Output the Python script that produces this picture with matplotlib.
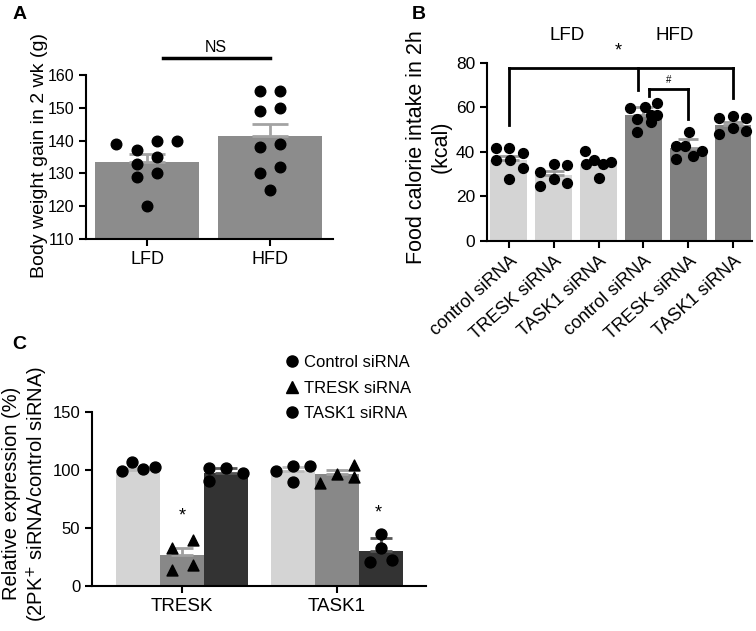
import matplotlib.pyplot as plt
from matplotlib.lines import Line2D

plt.rcParams['font.family'] = ['Liberation Sans', 'DejaVu Sans']

# ---- Panel A: body weight gain ----
a_groups = ['LFD', 'HFD']
a_means = [133.6, 141.5]
a_sem = [2.3, 3.7]
a_points = [
    [139, 137, 140, 140, 133, 135, 129, 130, 120],
    [155, 155, 149, 150, 138, 139, 130, 132, 125],
]
a_jitter = [
    [-0.25, -0.08, 0.08, 0.24, -0.08, 0.08, -0.08, 0.08, 0.0],
    [-0.08, 0.08, -0.08, 0.08, -0.08, 0.08, -0.08, 0.08, 0.0],
]

# ---- Panel B: food calorie intake ----
b_labels = ['control siRNA', 'TRESK siRNA', 'TASK1 siRNA',
            'control siRNA', 'TRESK siRNA', 'TASK1 siRNA']
b_diet = ['LFD', 'LFD', 'LFD', 'HFD', 'HFD', 'HFD']
b_means = [36.6, 29.6, 34.5, 56.4, 41.7, 52.3]
b_sem = [1.7, 2.0, 1.5, 3.8, 4.2, 1.3]
b_points = [
    [41.7, 41.7, 39.4, 36.5, 36.5, 32.9, 27.8],
    [30.9, 34.5, 34.1, 27.8, 24.8, 25.9],
    [40.6, 36.5, 34.6, 34.6, 35.4, 28.3],
    [59.8, 60.1, 62.1, 54.9, 56.7, 56.4, 53.4, 49.2],
    [49.2, 42.6, 42.9, 40.6, 38.3, 36.8],
    [55.2, 56.1, 55.2, 48.1, 50.8, 49.3],
]
b_jitter = [
    [-0.28, 0.0, 0.31, -0.29, 0.02, 0.31, 0.0],
    [-0.3, 0.0, 0.3, 0.0, -0.3, 0.3],
    [-0.3, -0.09, -0.29, 0.1, 0.28, 0.0],
    [-0.29, 0.04, 0.31, -0.14, 0.16, 0.31, 0.16, -0.14],
    [0.01, -0.27, -0.08, 0.31, 0.1, -0.27],
    [-0.31, 0.0, 0.28, -0.31, 0.0, 0.28],
]
# significance brackets (bar index, heights)
b_big_x = [0, 2.87, 5]
b_big_top = 77.7
b_big_ends = [52.2, 67.7, 64.2]
b_small_x = [3.13, 4]
b_small_top = 68.3
b_small_ends = [65.0, 55.0]

# ---- Panel C: relative expression ----
c_genes = ['TRESK', 'TASK1']
c_series = ['Control siRNA', 'TRESK siRNA', 'TASK1 siRNA']
c_means = [[100.0, 99.3], [26.5, 96.6], [97.6, 29.8]]
c_sem = [[1.5, 3.2], [6.0, 3.0], [4.5, 11.4]]
c_points = [
    [[99.0, 106.5, 101.0, 103.0], [99.3, 103.6, 103.6, 90.0]],
    [[32.4, 39.7, 13.8, 18.5], [88.7, 96.7, 103.9, 93.9]],
    [[101.5, 102.0, 97.0, 90.6], [44.9, 32.5, 20.4, 22.5]],
]
c_jitter = [
    [[-0.105, -0.037, 0.034, 0.11], [-0.108, 0.0, 0.108, 0.0]],
    [[-0.067, 0.069, -0.067, 0.069], [-0.11, 0.0, 0.11, 0.11]],
    [[-0.108, 0.0, 0.112, -0.108], [0.0, 0.0, -0.07, 0.07]],
]
c_markers = ['o', '^', 'o']
c_colors = ['#d4d4d4', '#888888', '#333333']
c_err_colors = ['#bdbdbd', '#a0a0a0', '#555555']
c_stars = [(0, 1, 60.0), (1, 2, 63.3)]  # (gene, series, y)

fig = plt.figure(figsize=(7.56, 6.31), dpi=100)


def style(ax):
    for s in ['top', 'right']:
        ax.spines[s].set_visible(False)
    for s in ['left', 'bottom']:
        ax.spines[s].set_linewidth(1.5)
    ax.tick_params(width=1.5, length=5)


# Panel A
axA = fig.add_axes([0.1138, 0.6212, 0.3267, 0.26])
xa = list(range(len(a_groups)))
axA.bar(xa, a_means, width=0.84, color='#8c8c8c', zorder=1)
axA.errorbar(xa, a_means, yerr=[[0, 0], a_sem], fmt='none', ecolor='#a3a3a3',
             elinewidth=2, capsize=13, capthick=2, zorder=2)
for i, pts in enumerate(a_points):
    axA.scatter([xa[i] + d for d in a_jitter[i]], pts, s=58, color='black', zorder=3)
axA.set_xlim(-0.496, 1.512)
axA.set_ylim(110, 160)
axA.set_yticks(range(110, 161, 10))
axA.set_xticks(xa)
axA.set_xticklabels(a_groups, fontsize=13)
axA.tick_params(axis='y', labelsize=11.5)
axA.set_ylabel('Body weight gain in 2 wk (g)', fontsize=14)
axA.yaxis.set_label_coords(-0.154, 0.51)
style(axA)
axA.plot([0.128, 1.0], [165.2, 165.2], color='black', lw=2.5, clip_on=False)
axA.text(0.56, 168.4, 'NS', ha='center', va='center', fontsize=11.5)

# Panel B
axB = fig.add_axes([0.644, 0.6181, 0.3505, 0.2821])
xb = list(range(len(b_labels)))
bcol = ['#d4d4d4' if d == 'LFD' else '#808080' for d in b_diet]
axB.bar(xb, b_means, width=0.82, color=bcol, zorder=1)
axB.errorbar(xb, b_means, yerr=[[0] * 6, b_sem], fmt='none', ecolor='#9a9a9a',
             elinewidth=2, capsize=7, capthick=2, zorder=2)
for i, pts in enumerate(b_points):
    axB.scatter([xb[i] + d for d in b_jitter[i]], pts, s=50, color='black', zorder=3)
axB.set_xlim(-0.49, 5.42)
axB.set_ylim(0, 80)
axB.set_yticks(range(0, 81, 20))
axB.set_xticks(xb)
axB.set_xticklabels(b_labels, rotation=42, ha='right', va='top',
                    rotation_mode='anchor', fontsize=13)
axB.tick_params(axis='y', labelsize=12.5)
axB.set_ylabel('Food calorie intake in 2h\n(kcal)', fontsize=15.5, linespacing=1.25)
axB.yaxis.set_label_coords(-0.132, 0.528)
style(axB)
axB.plot([b_big_x[0], b_big_x[-1]], [b_big_top] * 2, color='black', lw=2, clip_on=False)
for x, y in zip(b_big_x, b_big_ends):
    axB.plot([x, x], [y, b_big_top], color='black', lw=2, clip_on=False)
axB.plot(b_small_x, [b_small_top] * 2, color='black', lw=2)
for x, y in zip(b_small_x, b_small_ends):
    axB.plot([x, x], [y, b_small_top], color='black', lw=2)
axB.text(2.44, 85.5, '*', ha='center', va='center', fontsize=13)
axB.text(3.56, 72.5, '#', ha='center', va='center', fontsize=7)
axB.text(1.29, 92.3, 'LFD', ha='center', va='center', fontsize=13.5)
axB.text(3.7, 92.3, 'HFD', ha='center', va='center', fontsize=13.5)

# Panel C
axC = fig.add_axes([0.1217, 0.0713, 0.4418, 0.2758])
w = 0.284
for k in range(len(c_series)):
    off = (k - 1) * w
    xs = [g + off for g in range(len(c_genes))]
    axC.bar(xs, c_means[k], width=w, color=c_colors[k], zorder=1)
    axC.errorbar(xs, c_means[k], yerr=[[0, 0], c_sem[k]], fmt='none',
                 ecolor=c_err_colors[k], elinewidth=2, capsize=8, capthick=2, zorder=2)
    for g in range(len(c_genes)):
        axC.scatter([xs[g] + d for d in c_jitter[k][g]], c_points[k][g],
                    marker=c_markers[k], s=62, color='black', zorder=3)
for g, k, y in c_stars:
    axC.text(g + (k - 1) * w - 0.02 * (k - 1), y, '*', ha='center', va='center', fontsize=13)
axC.set_xlim(-0.58, 1.574)
axC.set_ylim(0, 150)
axC.set_yticks([0, 50, 100, 150])
axC.set_xticks(range(len(c_genes)))
axC.set_xticklabels(c_genes, fontsize=13.5)
axC.tick_params(axis='y', labelsize=12)
axC.set_ylabel('Relative expression (%)\n(2PK$^{+}$ siRNA/control siRNA)',
               fontsize=14.5, linespacing=1.2)
axC.yaxis.set_label_coords(-0.126, 0.53)
style(axC)
handles = [Line2D([], [], marker=m, color='black', linestyle='none', markersize=8)
           for m in c_markers]
fig.legend(handles, c_series, loc='upper left', bbox_to_anchor=(0.367, 0.4475),
           frameon=False, fontsize=12, handletextpad=0.2, labelspacing=0.62,
           handlelength=1.0, borderaxespad=0)

# panel letters
fig.text(0.016, 0.99, 'A', fontsize=14, fontweight='bold', va='top')
fig.text(0.545, 0.99, 'B', fontsize=14, fontweight='bold', va='top')
fig.text(0.016, 0.468, 'C', fontsize=14, fontweight='bold', va='top')

fig.savefig('out.png', dpi=100)
